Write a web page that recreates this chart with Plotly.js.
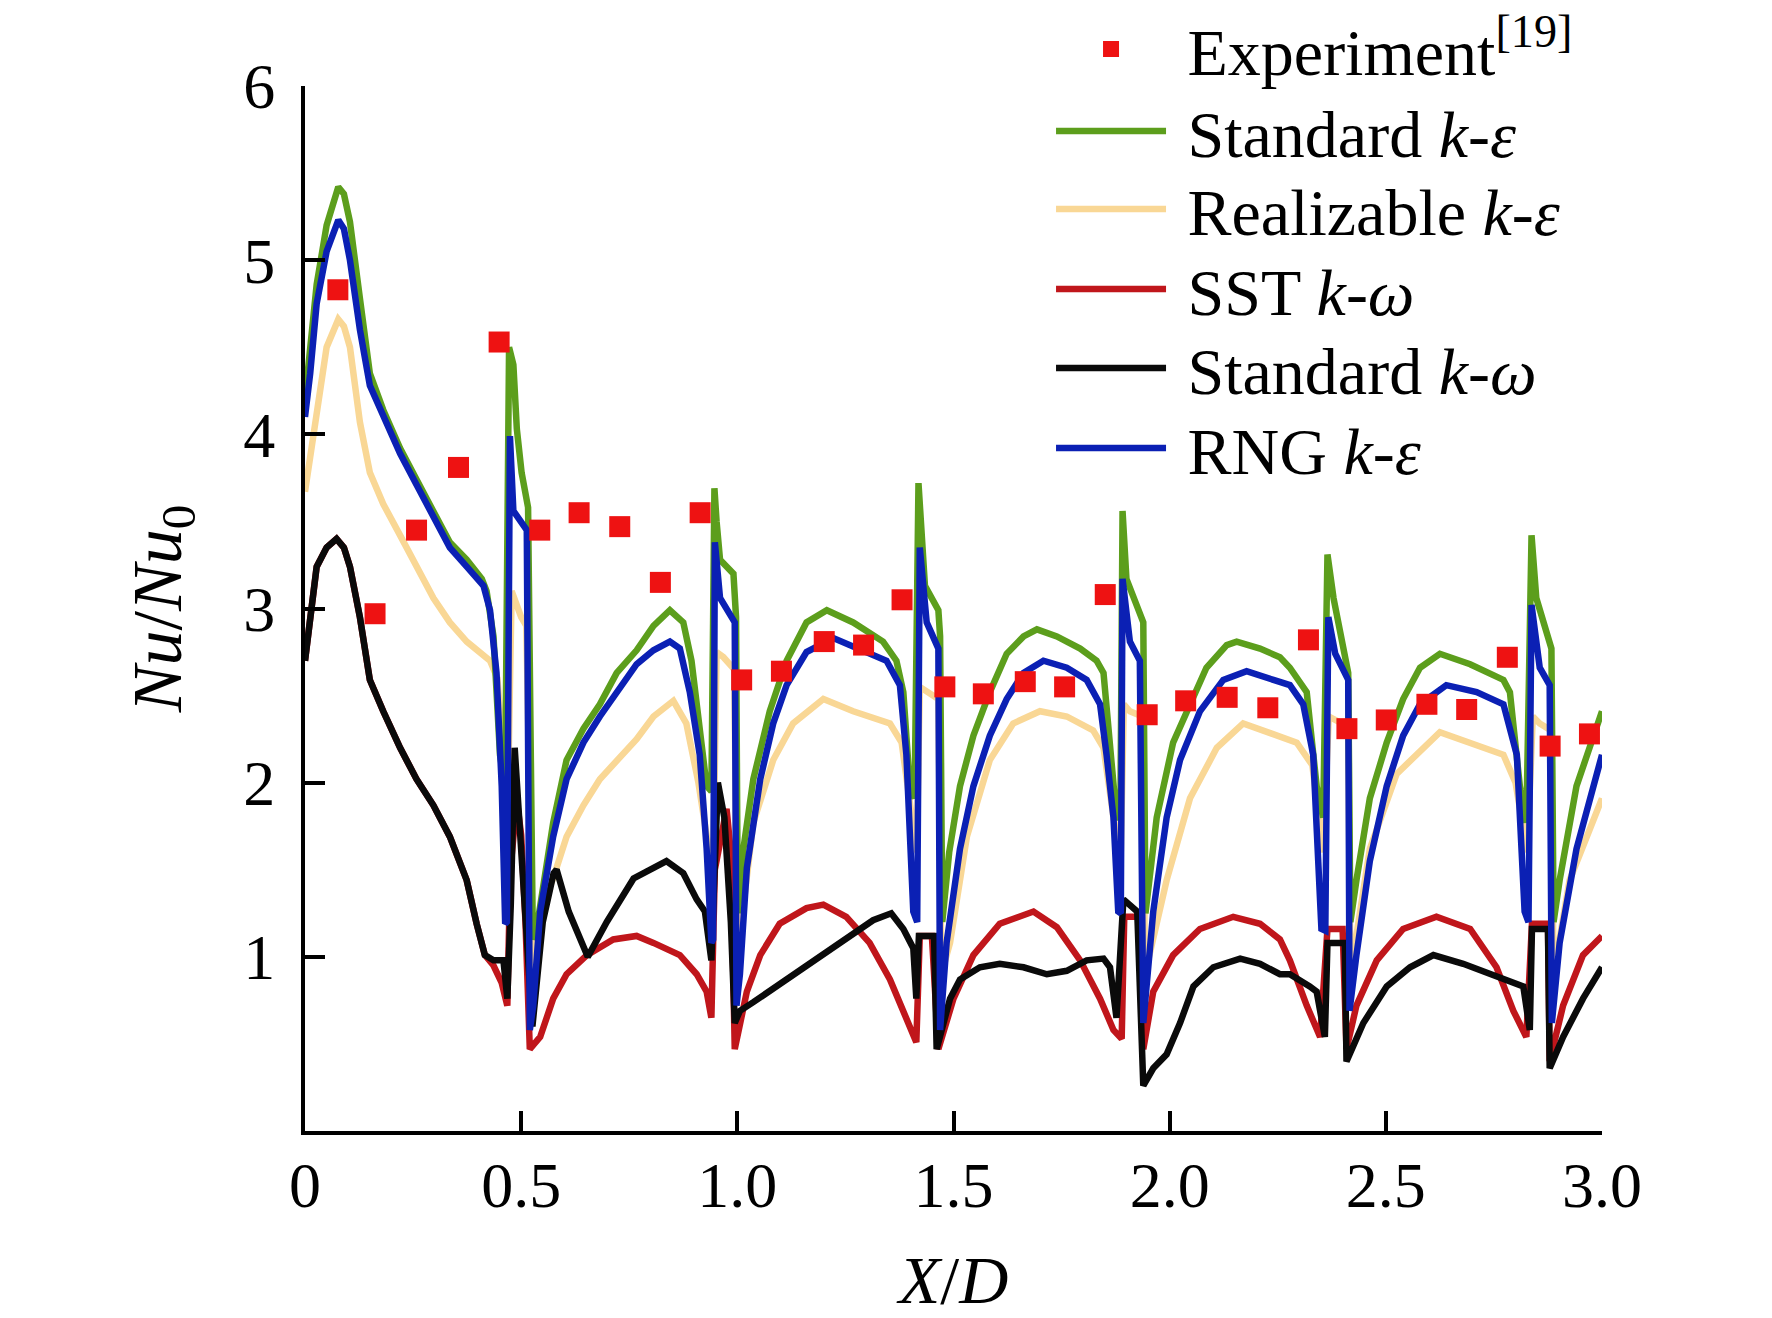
<!DOCTYPE html>
<html>
<head>
<meta charset="utf-8">
<script src="https://cdn.plot.ly/plotly-3.0.1.min.js"></script>
<style>
html,body{margin:0;padding:0;background:#fff;}
#chart{width:1772px;height:1318px;}
</style>
</head>
<body>
<div id="chart"></div>
<script>
// ---- Experiment [19] ----
const xExp = [0.076,0.162,0.258,0.355,0.449,0.543,0.634,0.728,0.822,0.914,1.010,1.102,1.201,1.292,1.381,1.480,1.569,1.666,1.757,1.851,1.948,2.037,2.133,2.227,2.321,2.410,2.501,2.595,2.687,2.781,2.880,2.971];
const yExp = [4.83,2.97,3.45,3.81,4.53,3.45,3.55,3.47,3.15,3.55,2.59,2.64,2.81,2.79,3.05,2.55,2.51,2.58,2.55,3.08,2.39,2.47,2.49,2.43,2.82,2.31,2.36,2.45,2.42,2.72,2.21,2.28];

// ---- Standard k-epsilon ----
const xStdKE = [0,0.012,0.027,0.05,0.077,0.09,0.104,0.127,0.15,0.181,
0.22,0.258,0.297,0.335,0.374,0.409,0.42,0.436,0.451,0.463,
0.472,0.482,0.49,0.501,0.516,0.527,0.535,0.544,0.574,0.605,
0.644,0.682,0.721,0.767,0.806,0.844,0.875,0.894,0.913,0.929,
0.94,0.947,0.952,0.96,0.991,0.997,1.001,1.014,1.037,1.075,
1.114,1.16,1.207,1.268,1.337,1.368,1.384,1.399,1.41,1.419,
1.434,1.465,1.469,1.474,1.49,1.515,1.546,1.584,1.623,1.662,
1.693,1.739,1.793,1.831,1.847,1.862,1.877,1.886,1.891,1.9,
1.939,1.944,1.97,2.008,2.047,2.085,2.132,2.155,2.209,2.255,
2.278,2.317,2.34,2.355,2.365,2.379,2.413,2.418,2.432,2.463,
2.502,2.54,2.579,2.625,2.695,2.772,2.787,2.81,2.825,2.837,
2.848,2.883,2.888,2.902,2.941,3.0];
const yStdKE = [4.2,4.5,4.86,5.2,5.42,5.38,5.22,4.78,4.35,4.14,
3.92,3.74,3.56,3.38,3.28,3.17,3.1,2.84,2.16,1.98,
4.5,4.4,4.03,3.78,3.58,1.1,1.15,1.3,1.77,2.13,
2.31,2.45,2.63,2.76,2.9,2.99,2.92,2.7,2.34,1.98,
1.95,3.69,3.5,3.28,3.2,2.95,1.25,1.62,2.02,2.41,
2.7,2.92,2.99,2.92,2.81,2.7,2.52,1.98,1.91,3.72,
3.13,2.99,2.84,1.2,1.6,1.98,2.27,2.52,2.74,2.84,
2.88,2.84,2.77,2.7,2.63,2.16,1.8,1.8,3.56,3.17,
2.92,1.25,1.8,2.23,2.45,2.66,2.79,2.81,2.77,2.72,
2.66,2.52,1.98,1.8,3.31,3.06,2.63,1.2,1.44,1.91,
2.23,2.48,2.66,2.74,2.68,2.59,2.52,1.98,1.77,3.42,
3.06,2.77,1.2,1.44,1.98,2.41];

// ---- Realizable k-epsilon ----
const xReal = [0,0.027,0.05,0.077,0.09,0.104,0.127,0.15,0.181,0.22,
0.258,0.297,0.335,0.374,0.428,0.445,0.46,0.47,0.478,0.49,
0.5,0.512,0.527,0.548,0.574,0.605,0.644,0.682,0.721,0.767,
0.806,0.852,0.882,0.91,0.935,0.945,0.952,0.968,0.993,1.0,
1.037,1.083,1.129,1.199,1.268,1.353,1.38,1.4,1.415,1.422,
1.438,1.465,1.472,1.492,1.531,1.584,1.638,1.7,1.762,1.823,
1.847,1.87,1.887,1.894,1.908,1.937,1.943,1.993,2.047,2.109,
2.17,2.255,2.294,2.33,2.355,2.368,2.398,2.413,2.418,2.463,
2.525,2.625,2.695,2.772,2.8,2.827,2.84,2.856,2.882,2.888,
2.925,3.0];
const yReal = [3.67,4.14,4.5,4.66,4.62,4.5,4.07,3.78,3.6,3.42,
3.24,3.06,2.92,2.81,2.7,2.6,2.1,2.0,3.1,3.02,
2.95,2.9,0.9,1.3,1.45,1.69,1.87,2.02,2.13,2.25,
2.38,2.47,2.34,2.0,1.6,1.6,2.75,2.72,2.65,1.0,
1.77,2.13,2.34,2.48,2.41,2.34,2.23,1.9,1.6,2.55,
2.52,2.48,0.9,1.08,1.69,2.13,2.34,2.41,2.38,2.3,
2.2,1.8,1.6,2.45,2.41,2.38,0.9,1.44,1.91,2.2,
2.34,2.27,2.23,2.1,1.6,2.38,2.34,2.3,0.9,1.62,
2.05,2.29,2.23,2.16,2.0,1.6,2.38,2.34,2.3,0.9,
1.44,1.91];

// ---- SST k-omega ----
const xSST = [0,0.027,0.05,0.073,0.09,0.104,0.127,0.15,0.181,0.22,
0.258,0.297,0.335,0.374,0.397,0.416,0.436,0.455,0.468,0.475,
0.49,0.5,0.51,0.52,0.544,0.574,0.605,0.652,0.713,0.767,
0.806,0.867,0.906,0.929,0.94,0.948,0.975,0.985,0.994,1.022,
1.053,1.098,1.16,1.199,1.252,1.306,1.353,1.391,1.414,1.422,
1.45,1.465,1.5,1.546,1.607,1.685,1.739,1.793,1.839,1.87,
1.889,1.895,1.93,1.939,1.962,2.008,2.07,2.147,2.209,2.255,
2.278,2.317,2.348,2.365,2.4,2.409,2.432,2.479,2.54,2.617,
2.695,2.756,2.795,2.825,2.838,2.875,2.879,2.91,2.956,3.0];
const ySST = [2.7,3.24,3.35,3.4,3.35,3.24,2.95,2.59,2.41,2.2,
2.02,1.87,1.69,1.44,1.19,1.01,0.95,0.85,0.72,1.5,
1.9,1.7,1.2,0.47,0.54,0.76,0.9,1.01,1.1,1.12,
1.08,1.01,0.9,0.8,0.65,1.5,1.85,1.6,0.47,0.8,
1.01,1.19,1.28,1.3,1.23,1.08,0.87,0.65,0.51,1.12,
1.12,0.47,0.76,1.01,1.19,1.26,1.17,0.98,0.76,0.58,
0.53,1.23,1.23,0.47,0.8,1.01,1.16,1.23,1.19,1.1,
0.98,0.72,0.54,1.16,1.16,0.47,0.72,0.98,1.16,1.23,
1.16,0.94,0.69,0.54,1.19,1.19,0.4,0.72,1.01,1.12];

// ---- Standard k-omega ----
const xStdKW = [0,0.027,0.05,0.073,0.09,0.104,0.127,0.15,0.181,0.22,
0.258,0.297,0.335,0.374,0.397,0.416,0.436,0.459,0.468,0.476,
0.485,0.495,0.505,0.52,0.526,0.55,0.575,0.582,0.61,0.654,
0.698,0.76,0.836,0.875,0.906,0.925,0.94,0.946,0.955,0.97,
0.985,0.994,1.006,1.037,1.114,1.191,1.268,1.314,1.356,1.384,
1.407,1.414,1.42,1.455,1.461,1.492,1.515,1.561,1.607,1.662,
1.716,1.762,1.808,1.847,1.862,1.877,1.893,1.925,1.939,1.962,
1.993,2.024,2.055,2.101,2.163,2.209,2.255,2.278,2.324,2.34,
2.359,2.365,2.405,2.409,2.448,2.502,2.556,2.61,2.679,2.756,
2.818,2.833,2.838,2.875,2.879,2.91,2.956,3.0];
const yStdKW = [2.7,3.24,3.35,3.4,3.35,3.24,2.95,2.59,2.41,2.2,
2.02,1.87,1.69,1.44,1.19,1.01,0.98,0.98,0.76,1.3,
2.2,1.8,1.3,0.8,0.6,1.2,1.48,1.5,1.26,1.0,
1.2,1.45,1.55,1.48,1.33,1.26,0.98,1.4,2.0,1.8,
1.2,0.62,0.69,0.74,0.87,1.01,1.14,1.21,1.25,1.16,
1.05,0.76,1.12,1.12,0.47,0.76,0.87,0.94,0.96,0.94,
0.9,0.92,0.98,0.99,0.94,0.65,1.33,1.26,0.26,0.36,
0.44,0.62,0.83,0.94,0.99,0.96,0.9,0.9,0.83,0.8,
0.54,1.08,1.08,0.4,0.62,0.83,0.94,1.01,0.96,0.89,
0.83,0.58,1.16,1.16,0.36,0.54,0.76,0.94];

// ---- RNG k-epsilon ----
const xRNG = [0,0.012,0.027,0.05,0.077,0.09,0.104,0.127,0.15,0.181,
0.22,0.258,0.297,0.335,0.374,0.413,0.428,0.443,0.455,0.463,
0.467,0.474,0.482,0.497,0.513,0.52,0.528,0.544,0.574,0.605,
0.644,0.682,0.721,0.767,0.806,0.844,0.867,0.89,0.913,0.929,
0.94,0.944,0.948,0.96,0.994,0.998,1.006,1.022,1.053,1.083,
1.114,1.16,1.222,1.283,1.345,1.376,1.391,1.407,1.416,1.422,
1.438,1.465,1.469,1.484,1.515,1.546,1.584,1.623,1.662,1.708,
1.762,1.808,1.839,1.854,1.87,1.881,1.887,1.891,1.908,1.931,
1.939,1.962,1.993,2.024,2.07,2.124,2.178,2.24,2.278,2.309,
2.332,2.351,2.36,2.367,2.383,2.413,2.416,2.432,2.463,2.502,
2.54,2.579,2.64,2.71,2.772,2.803,2.821,2.83,2.837,2.856,
2.879,2.884,2.902,2.941,3.0];
const yRNG = [4.1,4.35,4.75,5.05,5.23,5.18,5.0,4.6,4.28,4.1,
3.89,3.71,3.53,3.35,3.24,3.13,2.99,2.63,1.98,1.19,
1.2,3.99,3.56,3.51,3.45,0.58,0.72,1.26,1.69,2.02,
2.23,2.38,2.52,2.68,2.76,2.81,2.77,2.52,2.16,1.62,
1.08,1.1,3.38,3.06,2.92,0.72,0.9,1.51,2.02,2.34,
2.56,2.75,2.83,2.77,2.7,2.56,2.16,1.26,1.2,3.35,
2.92,2.77,0.58,1.08,1.62,1.98,2.27,2.48,2.63,2.7,
2.66,2.59,2.45,2.16,1.8,1.26,1.25,3.17,2.81,2.7,
0.62,1.26,1.8,2.13,2.41,2.59,2.64,2.59,2.56,2.45,
2.16,1.16,1.15,2.95,2.74,2.59,0.69,1.01,1.55,1.98,
2.27,2.45,2.56,2.52,2.45,2.16,1.26,1.2,3.02,2.66,
2.56,0.62,1.08,1.62,2.16];

// ---- ticks ----
const xTickVals = [0,0.5,1.0,1.5,2.0,2.5,3.0];
const xTickText = ['0','0.5','1.0','1.5','2.0','2.5','3.0'];
const yTickVals = [1,2,3,4,5,6];
const yTickText = ['1','2','3','4','5','6'];

const FONT = 'Liberation Serif, Times New Roman, Times, serif';
const LW = 6.5;
const SP = '\u00A0';

const traces = [
  {x:xReal, y:yReal, mode:'lines', name:SP+'Realizable <i>k</i>-<i>ε</i>', legend:'legend3',
   line:{color:'#f9d795', width:LW}},
  {x:xStdKE, y:yStdKE, mode:'lines', name:SP+'Standard <i>k</i>-<i>ε</i>', legend:'legend2',
   line:{color:'#5c9e1c', width:LW}},
  {x:xSST, y:ySST, mode:'lines', name:SP+'SST <i>k</i>-<i>ω</i>', legend:'legend4',
   line:{color:'#c0161b', width:LW}},
  {x:xStdKW, y:yStdKW, mode:'lines', name:SP+'Standard <i>k</i>-<i>ω</i>', legend:'legend5',
   line:{color:'#0a0a0a', width:LW}},
  {x:xRNG, y:yRNG, mode:'lines', name:SP+'RNG <i>k</i>-<i>ε</i>', legend:'legend6',
   line:{color:'#0b20b4', width:LW}},
  {x:xExp, y:yExp, mode:'markers', name:SP+'Experiment<sup>[19]</sup>', legend:'legend',
   marker:{symbol:'square', size:21, color:'#ee1212', line:{width:0}}}
];

const axisCommon = {
  ticks:'inside', ticklen:20, tickwidth:4, tickcolor:'#000',
  showline:true, linewidth:4, linecolor:'#000',
  showgrid:false, zeroline:false,
  tickfont:{family:FONT, size:64, color:'#000'},
  automargin:false
};

// legend rows (plot-area top = 86px, bottom = 1131px, height 1045px)
const legendX = 0.5752;
const rowPx = [49, 131, 209, 289, 368, 448];
function legendAt(i){
  return {x:legendX, y:(1131 - rowPx[i]) / 1045, xanchor:'left', yanchor:'middle',
          bgcolor:'rgba(0,0,0,0)', borderwidth:0, itemwidth:110,
          font:{family:FONT, size:66, color:'#000'}};
}

const layout = {
  width:1772, height:1318,
  margin:{l:305, r:170, t:86, b:187, autoexpand:false},
  paper_bgcolor:'#fff', plot_bgcolor:'#fff',
  font:{family:FONT, size:64, color:'#000'},
  showlegend:true,
  legend:legendAt(0), legend2:legendAt(1), legend3:legendAt(2),
  legend4:legendAt(3), legend5:legendAt(4), legend6:legendAt(5),
  xaxis:Object.assign({}, axisCommon, {
    range:[0,3], tickmode:'array', tickvals:xTickVals, ticktext:xTickText,
    ticklabelstandoff:-5,
    title:{text:'<i>X</i>/<i>D</i>', font:{family:FONT, size:68, color:'#000'}, standoff:48}
  }),
  yaxis:Object.assign({}, axisCommon, {
    range:[0,6], tickmode:'array', tickvals:yTickVals, ticktext:yTickText,
    ticklabelstandoff:13,
    title:{text:'<i>Nu</i>/<i>Nu</i><sub>0</sub>', font:{family:FONT, size:70, color:'#000'}, standoff:40}
  })
};

Plotly.newPlot('chart', traces, layout, {displayModeBar:false, staticPlot:true});
</script>
</body>
</html>
